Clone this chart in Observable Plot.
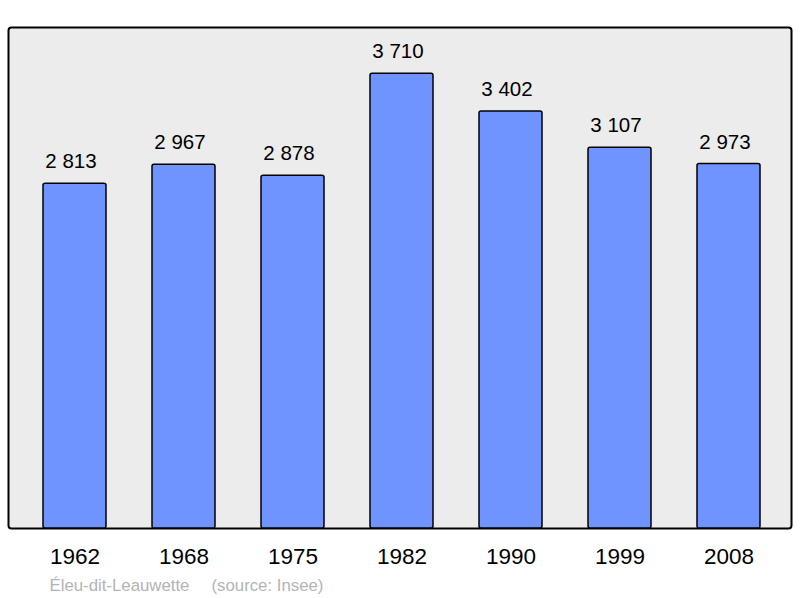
<!DOCTYPE html>
<html>
<head>
<meta charset="utf-8">
<script src="https://cdn.jsdelivr.net/npm/d3@7"></script>
<script src="https://cdn.jsdelivr.net/npm/@observablehq/plot@0.6"></script>
<style>
  html, body { margin: 0; padding: 0; background: #fff; }
  svg { display: block; font-family: "Liberation Sans", Arial, sans-serif; }
</style>
</head>
<body>
<div id="chart"></div>
<script>
const years = ["1962", "1968", "1975", "1982", "1990", "1999", "2008"];
const population = [2813, 2967, 2878, 3710, 3402, 3107, 2973];
const placeName = "Éleu-dit-Leauwette";
const sourceText = "(source: Insee)";

const data = years.map((year, i) => ({year, pop: population[i]}));
const fmt = d3.formatLocale({decimal: ",", thousands: " ", grouping: [3], currency: ["", ""]}).format(",");

const chart = Plot.plot({
  width: 800,
  height: 598,
  marginTop: 27,
  marginBottom: 70,
  marginLeft: 8,
  marginRight: 9,
  style: {fontFamily: "'Liberation Sans', Arial, sans-serif", background: "#fff", overflow: "visible"},
  x: {type: "band", domain: years, range: [42, 761], paddingInner: 0.424, paddingOuter: 0, axis: null},
  y: {domain: [0, 4087], axis: null},
  marks: [
    Plot.frame({fill: "#ececec", stroke: "black", strokeWidth: 2, rx: 3}),
    Plot.barY(data, {x: "year", y: "pop", fill: "#7094ff", stroke: "black", strokeWidth: 1.5, rx: 2}),
    Plot.text(data, {x: "year", y: "pop", text: d => fmt(d.pop), dx: -4, dy: -22, fontSize: 20.5, fill: "black", lineAnchor: "middle"}),
    Plot.text(years, {x: d => d, frameAnchor: "bottom", dy: 28.5, fontSize: 22.5, fill: "black", lineAnchor: "middle"}),
    Plot.text([placeName], {frameAnchor: "bottom-left", textAnchor: "start", dx: 41, dy: 57, fontSize: 16.8, fill: "#b4b4b4", lineAnchor: "middle"}),
    Plot.text([sourceText], {frameAnchor: "bottom-left", textAnchor: "start", dx: 203, dy: 57, fontSize: 16.8, fill: "#b4b4b4", lineAnchor: "middle"})
  ]
});
document.getElementById("chart").appendChild(chart);
</script>
</body>
</html>
